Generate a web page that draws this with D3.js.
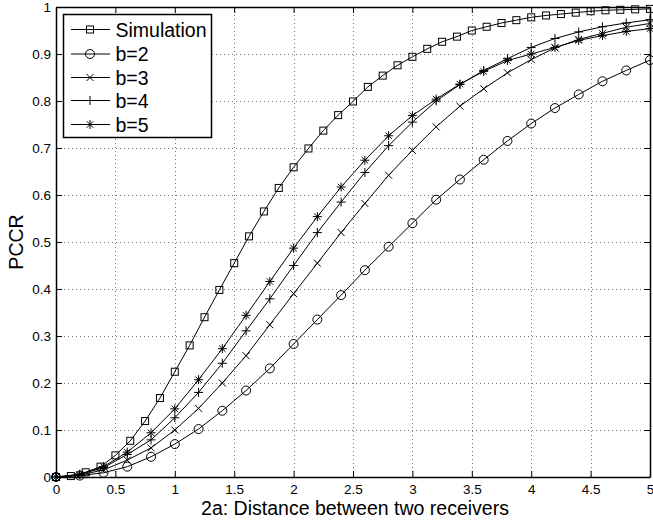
<!DOCTYPE html>
<html>
<head>
<meta charset="utf-8">
<script src="https://cdn.jsdelivr.net/npm/d3@7"></script>
<style>
body { margin:0; padding:0; background:#fff; }
svg text { font-family:"Liberation Sans", Arial, Helvetica, sans-serif; fill:#000; }
</style>
</head>
<body>
<script>
// data
var simX = [0,0.125,0.25,0.375,0.5,0.625,0.75,0.875,1,1.125,1.25,1.375,1.5,1.625,1.75,1.875,2,2.125,2.25,2.375,2.5,
            2.625,2.75,2.875,3,3.125,3.25,3.375,3.5,3.625,3.75,3.875,4,4.125,4.25,4.375,4.5,4.625,4.75,4.875,5];
var simY = [0,0.002,0.01,0.022,0.046,0.077,0.119,0.168,0.224,0.28,0.34,0.398,0.455,0.512,0.565,0.615,0.659,0.699,0.737,0.770,0.799,
            0.830,0.854,0.876,0.894,0.911,0.926,0.937,0.95,0.958,0.966,0.972,0.978,0.982,0.985,0.988,0.991,0.993,0.994,0.995,0.996];

var bX  = [0,0.2,0.4,0.6,0.8,1,1.2,1.4,1.6,1.8,2,2.2,2.4,2.6,2.8,3,3.2,3.4,3.6,3.8,4,4.2,4.4,4.6,4.8,5];
var b2Y = [0,0.003,0.009,0.022,0.043,0.070,0.102,0.141,0.184,0.231,0.283,0.335,0.387,0.44,0.49,0.54,0.59,0.633,0.675,0.715,0.752,0.785,0.814,0.842,0.865,0.887];
var b3Y = [0,0.004,0.015,0.036,0.062,0.100,0.146,0.200,0.258,0.324,0.390,0.455,0.520,0.582,0.642,0.695,0.745,0.789,0.826,0.860,0.888,0.913,0.931,0.944,0.957,0.965];
var b4Y = [0,0.005,0.02,0.048,0.079,0.126,0.180,0.242,0.311,0.379,0.450,0.520,0.585,0.648,0.705,0.755,0.800,0.835,0.865,0.890,0.914,0.933,0.947,0.958,0.966,0.973];
var b5Y = [0,0.006,0.022,0.053,0.094,0.145,0.207,0.273,0.344,0.416,0.487,0.554,0.617,0.674,0.726,0.769,0.804,0.836,0.863,0.886,0.900,0.914,0.929,0.939,0.948,0.954];

var seriesNames = ["Simulation","b=2","b=3","b=4","b=5"];
var markerKinds = ["square","circle","x","plus","star"];

var xTicks = [0,0.5,1,1.5,2,2.5,3,3.5,4,4.5,5];
var yTicks = [0,0.1,0.2,0.3,0.4,0.5,0.6,0.7,0.8,0.9,1];
var xTickLabels = ["0","0.5","1","1.5","2","2.5","3","3.5","4","4.5","5"];
var yTickLabels = ["0","0.1","0.2","0.3","0.4","0.5","0.6","0.7","0.8","0.9","1"];

var xLabel = "2a: Distance between two receivers";
var yLabel = "PCCR";

document.addEventListener('DOMContentLoaded', function () {

var W = 653, H = 520;
var left = 56, right = 650, top = 7, bottom = 477;     // plot box in px

var x = d3.scaleLinear().domain([0,5]).range([left,right]);
var y = d3.scaleLinear().domain([0,1]).range([bottom,top]);

var svg = d3.select("body").append("svg").attr("width",W).attr("height",H);

// dotted grid
var grid = svg.append("g").attr("stroke","#777").attr("stroke-width",1).attr("stroke-dasharray","1,3");
grid.selectAll(".gx").data(xTicks.slice(1,-1)).enter().append("line")
  .attr("x1",function(d){return Math.round(x(d))+0.5;}).attr("x2",function(d){return Math.round(x(d))+0.5;})
  .attr("y1",top).attr("y2",bottom);
grid.selectAll(".gy").data(yTicks.slice(1,-1)).enter().append("line")
  .attr("y1",function(d){return Math.round(y(d))+0.5;}).attr("y2",function(d){return Math.round(y(d))+0.5;})
  .attr("x1",left).attr("x2",right);

// marker drawing
function marker(g, kind, cx, cy) {
  if (kind == "square") {
    g.append("rect").attr("x",cx-3.5).attr("y",cy-3.5).attr("width",7).attr("height",7);
  } else if (kind == "circle") {
    g.append("circle").attr("cx",cx).attr("cy",cy).attr("r",4.5);
  } else if (kind == "x") {
    g.append("path").attr("d","M"+(cx-3.5)+","+(cy-3.5)+"L"+(cx+3.5)+","+(cy+3.5)+"M"+(cx-3.5)+","+(cy+3.5)+"L"+(cx+3.5)+","+(cy-3.5));
  } else if (kind == "plus") {
    g.append("path").attr("d","M"+(cx-4.5)+","+cy+"L"+(cx+4.5)+","+cy+"M"+cx+","+(cy-4.5)+"L"+cx+","+(cy+4.5));
  } else {
    g.append("path").attr("d","M"+(cx-4.5)+","+cy+"L"+(cx+4.5)+","+cy+"M"+cx+","+(cy-4.5)+"L"+cx+","+(cy+4.5)
      +"M"+(cx-3.2)+","+(cy-3.2)+"L"+(cx+3.2)+","+(cy+3.2)+"M"+(cx-3.2)+","+(cy+3.2)+"L"+(cx+3.2)+","+(cy-3.2));
  }
}

var allX = [simX, bX, bX, bX, bX];
var allY = [simY, b2Y, b3Y, b4Y, b5Y];

var line = d3.line().x(function(d){return x(d[0]);}).y(function(d){return y(d[1]);});

for (var s = 0; s < allY.length; s++) {
  var pts = allX[s].map(function(v,i){ return [v, allY[s][i]]; });
  var g = svg.append("g").attr("stroke","#000").attr("fill","none").attr("stroke-width",1);
  g.append("path").attr("d", line(pts));
  for (var i = 0; i < pts.length; i++) marker(g, markerKinds[s], x(pts[i][0]), y(pts[i][1]));
}

// axes box, ticks inside on all sides
var axes = svg.append("g");
axes.append("g").attr("transform","translate(0,"+bottom+")")
  .call(d3.axisBottom(x).tickValues(xTicks).tickSizeInner(-6).tickSizeOuter(0).tickPadding(7)
  .tickFormat(function(d,i){return xTickLabels[i];}));
axes.append("g").attr("transform","translate(0,"+top+")")
  .call(d3.axisTop(x).tickValues(xTicks).tickSizeInner(-6).tickSizeOuter(0).tickFormat(""));
axes.append("g").attr("transform","translate("+left+",0)")
  .call(d3.axisLeft(y).tickValues(yTicks).tickSizeInner(-6).tickSizeOuter(0).tickPadding(5)
  .tickFormat(function(d,i){return yTickLabels[i];}));
axes.append("g").attr("transform","translate("+right+",0)")
  .call(d3.axisRight(y).tickValues(yTicks).tickSizeInner(-6).tickSizeOuter(0).tickFormat(""));
axes.selectAll(".domain").attr("stroke","#000").attr("stroke-width",1.5);
axes.selectAll(".tick line").attr("stroke","#000").attr("stroke-width",1);
axes.selectAll(".tick text").attr("font-size","13.5px").attr("font-family","Liberation Sans, Arial, sans-serif").attr("fill","#000");

// axis labels
svg.append("text").attr("x",(left+right)/2+2).attr("y",515).attr("text-anchor","middle")
  .attr("font-size","19.5px").text(xLabel);
svg.append("text").attr("transform","translate(23,"+((top+bottom)/2)+") rotate(-90)").attr("text-anchor","middle")
  .attr("font-size","19.5px").text(yLabel);

// legend
var leg = svg.append("g");
leg.append("rect").attr("x",63.5).attr("y",14.5).attr("width",148).attr("height",123)
  .attr("fill","#fff").attr("stroke","#000").attr("stroke-width",1.5);
var rowY = [29.5, 54, 77.5, 100.5, 124.5];
for (var k = 0; k < seriesNames.length; k++) {
  var lg = leg.append("g").attr("stroke","#000").attr("fill","none").attr("stroke-width",1);
  lg.append("line").attr("x1",71).attr("x2",110).attr("y1",rowY[k]).attr("y2",rowY[k]);
  marker(lg, markerKinds[k], 90, rowY[k]);
  leg.append("text").attr("x",115.5).attr("y",rowY[k]+7).attr("font-size","19.5px").text(seriesNames[k]);
}

});
</script>
</body>
</html>
